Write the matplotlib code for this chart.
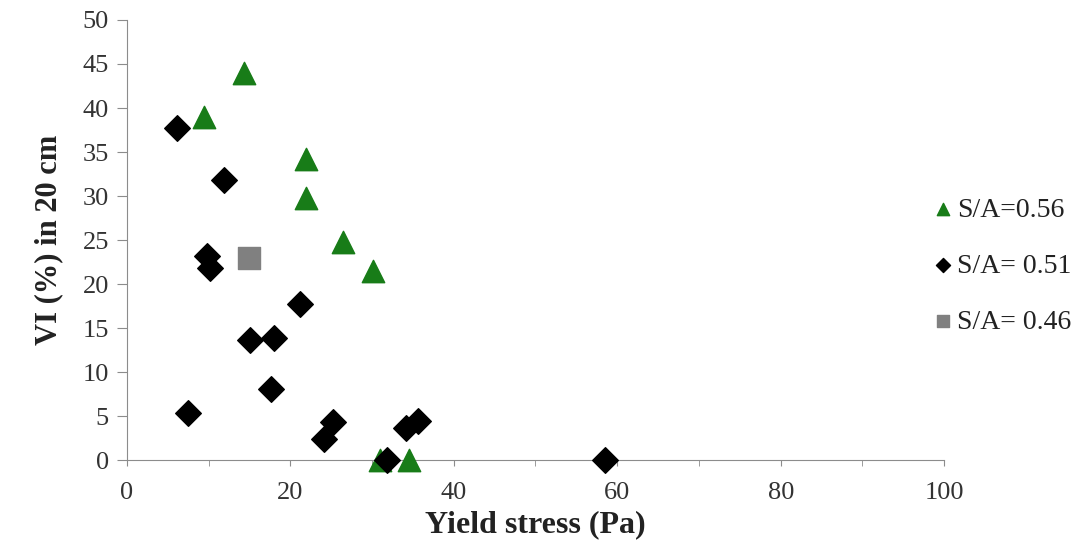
import matplotlib
matplotlib.use('Agg')
import matplotlib.pyplot as plt

# S/A = 0.56
x_056 = [14.3, 9.5, 21.9, 21.9, 26.4, 30.1, 31.0, 34.5]
y_056 = [44.0, 39.0, 34.2, 29.8, 24.8, 21.5, 0.0, 0.0]

# S/A = 0.51
x_051 = [6.1, 11.9, 9.8, 10.2, 21.2, 15.1, 18.0, 17.6, 7.5, 25.2, 24.1, 34.1, 35.6, 31.8, 58.5]
y_051 = [37.7, 31.8, 23.2, 21.8, 17.7, 13.6, 13.9, 8.1, 5.4, 4.3, 2.4, 3.7, 4.4, 0.0, 0.0]

# S/A = 0.46
x_046 = [14.9]
y_046 = [23.0]

plt.rcParams['font.family'] = ['Liberation Serif', 'DejaVu Serif']

fig = plt.figure(figsize=(10.84, 5.55), dpi=100)
ax = fig.add_axes([0.117, 0.171, 0.754, 0.793])

ax.scatter(x_056, y_056, marker='^', s=260, color='#187c18', label='S/A=0.56', zorder=3, clip_on=False)
ax.scatter(x_051, y_051, marker='D', s=170, color='black', label='S/A= 0.51', zorder=3, clip_on=False)
ax.scatter(x_046, y_046, marker='s', s=260, color='#808080', label='S/A= 0.46', zorder=3, clip_on=False)

ax.set_xlim(0, 100)
ax.set_ylim(0, 50)
ax.set_xticks(range(0, 101, 20))
ax.set_yticks(range(0, 51, 5))
ax.set_xticks(range(0, 101, 10), minor=True)

for s in ['top', 'right']:
    ax.spines[s].set_visible(False)
for s in ['left', 'bottom']:
    ax.spines[s].set_color('#8c8c8c')
ax.tick_params(axis='both', which='both', colors='#8c8c8c', labelcolor='#333333', labelsize=19)
ax.tick_params(axis='y', length=7, pad=6)
ax.tick_params(axis='x', which='both', length=4, pad=12)

ax.set_xlabel('Yield stress (Pa)', fontsize=23, fontweight='bold', color='#222222', labelpad=4)
ax.set_ylabel('VI (%) in 20 cm', fontsize=22, fontweight='bold', color='#222222', labelpad=14)

leg = fig.legend(loc='center left', bbox_to_anchor=(0.862, 0.521), frameon=False, fontsize=20,
                 markerscale=0.55, handlelength=0.6, handletextpad=0.2, labelspacing=1.1,
                 borderaxespad=0, borderpad=0)
for t in leg.get_texts():
    t.set_color('#222222')

fig.savefig('out.png', dpi=100)
